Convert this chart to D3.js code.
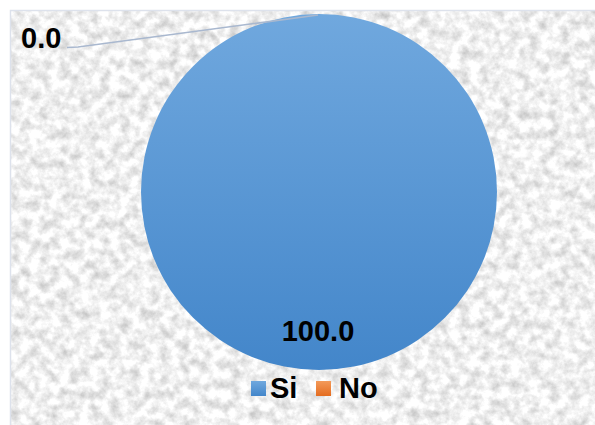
<!DOCTYPE html>
<html>
<head>
<meta charset="utf-8">
<script src="https://cdn.jsdelivr.net/npm/d3@7/dist/d3.min.js"></script>
<style>
html,body{margin:0;padding:0;background:#fff;}
svg{display:block;}
text{font-family:"Liberation Sans",Arial,sans-serif;font-weight:bold;fill:#000;}
</style>
</head>
<body>
<svg id="chart" width="595" height="425"></svg>
<script>
const categories = ["Si", "No"];
const values = [100.0, 0.0];
const labels = ["100.0", "0.0"];

const W = 595, H = 425;
const svg = d3.select("#chart");
const defs = svg.append("defs");

// paper texture
const f = defs.append("filter").attr("id", "paper").attr("x", 0).attr("y", 0).attr("width", "100%").attr("height", "100%")
  .attr("color-interpolation-filters", "sRGB");
f.append("feTurbulence").attr("type", "fractalNoise").attr("baseFrequency", "0.1").attr("numOctaves", 4).attr("seed", 7).attr("result", "n");
f.append("feColorMatrix").attr("in", "n").attr("type", "matrix")
  .attr("values", "0.40 0 0 0 0.74  0.40 0 0 0 0.74  0.40 0 0 0 0.74  0 0 0 0 1");

const blue = defs.append("linearGradient").attr("id", "gBlue").attr("x1", 0).attr("y1", 0).attr("x2", 0).attr("y2", 1);
blue.append("stop").attr("offset", "0%").attr("stop-color", "#70a8de");
blue.append("stop").attr("offset", "100%").attr("stop-color", "#4386ca");
const orange = defs.append("linearGradient").attr("id", "gOrange").attr("x1", 0).attr("y1", 0).attr("x2", 0).attr("y2", 1);
orange.append("stop").attr("offset", "0%").attr("stop-color", "#f39a5a");
orange.append("stop").attr("offset", "100%").attr("stop-color", "#e46c1f");
const fills = ["url(#gBlue)", "url(#gOrange)"];

// background
svg.append("rect").attr("x", 10).attr("y", 10).attr("width", W - 10).attr("height", H - 10)
  .attr("fill", "#ececec").attr("filter", "url(#paper)");
svg.append("path").attr("d", `M10.5,${H} V10.5 H${W}`).attr("fill", "none").attr("stroke", "#dde2ec").attr("stroke-width", 1.5);

// pie
const cx = 319, cy = 192, r = 178;
const pie = d3.pie().sort(null).value(d => d);
const arcs = pie(values);
const arc = d3.arc().innerRadius(0).outerRadius(r);
const g = svg.append("g").attr("transform", `translate(${cx},${cy})`);
g.selectAll("path.slice").data(arcs).enter().append("path").attr("class", "slice")
  .attr("d", arc).attr("fill", (d, i) => fills[i]);

// label for Si (inside)
g.append("text").attr("x", -1).attr("y", 149).attr("text-anchor", "middle")
  .style("font-size", "29px").text(labels[0]);

// label for No (outside with leader line)
const a0 = arcs[1].startAngle;
const edge = [Math.sin(a0) * r, -Math.cos(a0) * r];
const line = d3.line();
svg.append("path").attr("d", line([[cx + edge[0] - 1, cy + edge[1] + 1], [78, 47], [67, 47.5]]))
  .attr("fill", "none").attr("stroke", "#a9b8cf").attr("stroke-width", 1.7);
svg.append("text").attr("x", 21).attr("y", 48).style("font-size", "29px").text(labels[1]);

// legend
const leg = [{x: 251, tx: 270}, {x: 316, tx: 339}];
categories.forEach((c, i) => {
  svg.append("rect").attr("x", leg[i].x).attr("y", 381).attr("width", 15).attr("height", 15).attr("fill", fills[i]);
  svg.append("text").attr("x", leg[i].tx).attr("y", 398).style("font-size", "29px").text(c);
});
</script>
</body>
</html>
